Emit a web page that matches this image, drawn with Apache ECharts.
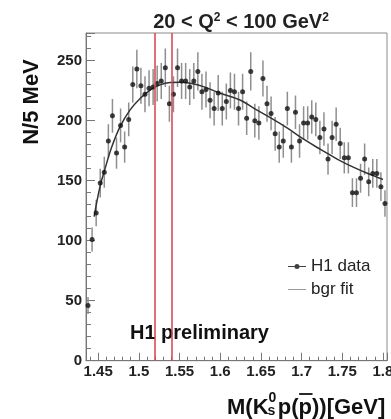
<!DOCTYPE html>
<html>
<head>
<meta charset="utf-8">
<script src="https://cdn.jsdelivr.net/npm/echarts@6/dist/echarts.min.js"></script>
<style>
html,body{margin:0;padding:0;background:#fff;}
#chart{width:391px;height:419px;}
</style>
</head>
<body>
<div id="chart"></div>
<script>
// ---- data ----
const massBins = [
  1.4375,1.4425,1.4475,1.4525,1.4575,1.4625,1.4675,1.4725,1.4775,1.4825,
  1.4875,1.4925,1.4975,1.5025,1.5075,1.5125,1.5175,1.5225,1.5275,1.5325,
  1.5375,1.5425,1.5475,1.5525,1.5575,1.5625,1.5675,1.5725,1.5775,1.5825,
  1.5875,1.5925,1.5975,1.6025,1.6075,1.6125,1.6175,1.6225,1.6275,1.6325,
  1.6375,1.6425,1.6475,1.6525,1.6575,1.6625,1.6675,1.6725,1.6775,1.6825,
  1.6875,1.6925,1.6975,1.7025,1.7075,1.7125,1.7175,1.7225,1.7275,1.7325,
  1.7375,1.7425,1.7475,1.7525,1.7575,1.7625,1.7675,1.7725,1.7775,1.7825,
  1.7875,1.7925,1.7975,1.8025
];
const counts = [
  46,101,123,148,157,183,204,173,196,178,
  201,230,243,229,222,227,228,231,233,244,
  214,222,244,233,233,228,233,241,224,226,
  217,210,223,210,216,225,224,210,224,202,
  241,200,198,235,214,206,189,178,183,210,
  178,207,183,198,198,203,201,186,193,168,
  186,197,181,169,169,140,140,152,168,149,
  156,156,145,131
];
const errors = [
  7,10,11,12,13,14,14,13,14,13,
  14,15,16,15,15,15,15,15,15,16,
  15,15,16,15,15,15,15,16,15,15,
  15,14,15,14,15,15,15,14,15,14,
  16,14,14,15,15,14,14,13,14,14,
  13,14,14,14,14,14,14,14,14,13,
  14,14,13,13,13,12,12,12,13,12,
  12,12,12,11
];
const fitMass = [1.445,1.4522,1.4584,1.4666,1.4769,1.4892,1.5015,1.5138,1.5261,1.5384,1.5508,1.565,1.5794,1.6,1.625,1.641,1.6616,1.6822,1.7026,1.7232,1.7437,1.7642,1.7848,1.80];
const fitValues = [120,145,160,178,195,209,218.5,225.5,229.8,231.7,232,231,228.3,222.8,217,210.5,202.5,194,184.5,176,168,161,155,151];
const windowLines = [1.522, 1.540];
const yTicks = {min: 0, max: 273, interval: 50};
const xRange = {min: 1.435, max: 1.805, step: 0.05};

// ---- build ----
const FONT = '"Liberation Sans", Arial, sans-serif';
const chart = echarts.init(document.getElementById('chart'), null, {renderer: 'canvas'});

const points = massBins.map((m, i) => [m, counts[i]]);
const bars = massBins.map((m, i) => [m, counts[i] - errors[i], counts[i] + errors[i]]);
const fit = fitMass.map((m, i) => [m, fitValues[i]]);

const mctx = document.createElement('canvas').getContext('2d');
function tw(t, size) { mctx.font = 'bold ' + size + 'px ' + FONT; return mctx.measureText(t).width; }

// x-axis title pieces: M(K^0_s p(p̄))[GeV]
const XT = 22, XS = 14, x0 = 227, yMid = 408;
const xK = x0 + tw('M(K', XT);
const xP = xK + Math.max(tw('0', XS), tw('s', XS)) + 1.5;
const xPbar = xP + tw('p(', XT);
const wP = tw('p', XT);
const xRest = xPbar + wP;
const tStyle = (txt, x, y, size) => ({type: 'text', silent: true, style: {text: txt, x: x, y: y, font: 'bold ' + size + 'px ' + FONT, fill: '#111', align: 'left', verticalAlign: 'middle'}});

const option = {
  animation: false,
  backgroundColor: '#fff',
  grid: {left: 86, right: 4, top: 33, bottom: 58.3, show: true, borderColor: '#8a8a8a', borderWidth: 1, containLabel: false, outerBoundsMode: 'none'},
  xAxis: {
    type: 'value', min: xRange.min, max: xRange.max,
    minInterval: xRange.step, maxInterval: xRange.step, splitNumber: 7,
    axisLine: {show: true, lineStyle: {color: '#777', width: 1}},
    axisTick: {show: true, inside: true, length: 8, lineStyle: {color: '#777'}},
    minorTick: {show: true, splitNumber: 5, length: 4, lineStyle: {color: '#777'}},
    splitLine: {show: false},
    axisLabel: {showMinLabel: false, showMaxLabel: false, margin: 4, fontSize: 15, fontWeight: 'bold', fontFamily: FONT, color: '#222'}
  },
  yAxis: {
    type: 'value', min: yTicks.min, max: yTicks.max, interval: yTicks.interval,
    axisLine: {show: true, lineStyle: {color: '#777', width: 1}},
    axisTick: {show: true, inside: true, length: 9, lineStyle: {color: '#777'}},
    minorTick: {show: true, splitNumber: 5, length: 5, lineStyle: {color: '#777'}},
    splitLine: {show: false},
    axisLabel: {showMaxLabel: false, margin: 4, fontSize: 15, fontWeight: 'bold', fontFamily: FONT, color: '#222'}
  },
  legend: {
    orient: 'vertical', left: 283, top: 253, itemGap: 6, itemWidth: 18, itemHeight: 5,
    selectedMode: false,
    textStyle: {fontSize: 17, fontFamily: FONT, color: '#222'},
    data: [
      {name: 'H1 data', icon: 'path://M0,2h6.6v1h-6.6z M11.4,2h6.6v1h-6.6z M6.5,2.5a2.5,2.5 0 1,1 5,0a2.5,2.5 0 1,1 -5,0z', itemStyle: {color: '#111', borderWidth: 0}},
      {name: 'bgr fit', icon: 'path://M0,2h18v1h-18z', itemStyle: {color: '#9a9a9a', borderWidth: 0}}
    ]
  },
  series: [
    {
      name: 'errors', type: 'custom', data: bars, clip: true, z: 2,
      encode: {x: 0, y: [1, 2]},
      renderItem: function (params, api) {
        const p1 = api.coord([api.value(0), api.value(1)]);
        const p2 = api.coord([api.value(0), api.value(2)]);
        return {type: 'line', shape: {x1: p1[0], y1: p1[1], x2: p2[0], y2: p2[1]}, style: {stroke: '#8f8f8f', lineWidth: 1.5}};
      }
    },
    {
      name: 'H1 data', type: 'scatter', data: points, symbol: 'circle', symbolSize: 5, z: 4,
      itemStyle: {color: '#111'}
    },
    {
      name: 'bgr fit', type: 'line', data: fit, smooth: 0.4, showSymbol: false, symbol: 'none', z: 3,
      itemStyle: {color: '#333'},
      lineStyle: {color: '#333', width: 1.5},
      markLine: {
        silent: true, symbol: ['none', 'none'], label: {show: false},
        lineStyle: {color: '#d8404c', width: 1.5, type: 'solid'},
        data: windowLines.map(v => ({xAxis: v}))
      }
    }
  ],
  graphic: [
    {type: 'text', silent: true, x: 241, y: 22, style: {
      text: '{m|20 < Q}{s|2}{m| < 100 GeV}{s|2}', align: 'center', verticalAlign: 'middle',
      rich: {m: {font: 'bold 20px ' + FONT, fill: '#222', lineHeight: 20}, s: {font: 'bold 12px ' + FONT, fill: '#222', verticalAlign: 'top', lineHeight: 12}}
    }},
    {type: 'text', silent: true, x: 32, y: 102, rotation: Math.PI / 2, style: {
      text: 'N/5 MeV', font: 'bold 22px ' + FONT, fill: '#111', align: 'center', verticalAlign: 'middle'
    }},
    {type: 'text', silent: true, x: 130, y: 333, style: {
      text: 'H1 preliminary', font: 'bold 20px ' + FONT, fill: '#111', align: 'left', verticalAlign: 'middle'
    }},
    tStyle('M(K', x0, yMid, XT),
    tStyle('0', xK, yMid - 10, XS),
    tStyle('s', xK - 1, yMid + 3, XS),
    tStyle('p(', xP, yMid, XT),
    tStyle('p', xPbar, yMid, XT),
    {type: 'line', silent: true, shape: {x1: xPbar + 0.5, y1: 394, x2: xPbar + wP + 0.5, y2: 394}, style: {stroke: '#111', lineWidth: 1.8}},
    tStyle('))[GeV]', xRest, yMid, XT)
  ]
};
chart.setOption(option);
</script>
</body>
</html>
